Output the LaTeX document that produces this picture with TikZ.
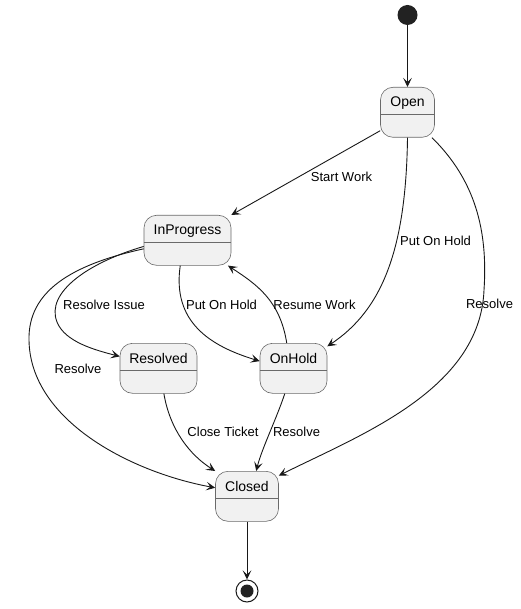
\documentclass[tikz,border=0pt]{standalone}
\usepackage{fontspec}
\setmainfont{Liberation Sans}
\usetikzlibrary{arrows.meta,calc}
\definecolor{edgec}{HTML}{181818}
\definecolor{boxc}{HTML}{6A6A6A}
\definecolor{fillc}{HTML}{F1F1F1}
\definecolor{startc}{HTML}{222222}
\tikzset{
  stbox/.style={draw=boxc, line width=0.6pt, fill=fillc, rounded corners=12.5pt,
    minimum height=50pt, inner sep=0pt, anchor=north},
  divline/.style={draw=boxc, line width=0.6pt},
  stname/.style={font=\fontsize{14}{16}\selectfont, anchor=base, inner sep=0pt, text=black},
  elabel/.style={font=\fontsize{13}{15}\selectfont, anchor=base, inner sep=0pt, text=black},
  trans/.style={draw=edgec, line width=0.9pt, -{Stealth[length=9pt,width=8.5pt,inset=4pt]}},
}
\newcommand\mystate[5]{%
  \node[stbox, minimum width=#4pt] (#1) at (#2,#3) {};
  \draw[divline] ([yshift=-27pt]#1.north west) -- ([yshift=-27pt]#1.north east);
  \node[stname] (#1-t) at ([yshift=-20pt]#1.north) {#5};
}
\begin{document}
\begin{tikzpicture}[x=1pt,y=-1pt]
\useasboundingbox (0,0) rectangle (520,609);
% states
\node[circle, fill=startc, minimum size=20pt, inner sep=0pt] (start) at (407.5,15) {};
\mystate{open}{407.5}{87}{54}{Open}
\mystate{inprog}{187.5}{215}{87}{InProgress}
\mystate{resolved}{158.5}{343}{77}{Resolved}
\mystate{onhold}{293.5}{343}{67}{OnHold}
\mystate{closed}{247}{471}{63}{Closed}
\node[circle, draw=edgec, line width=1pt, fill=white, minimum size=22pt, inner sep=0pt] (end) at (247,591) {};
\fill[startc] (end.center) circle (6.5pt);
% transitions
\draw[trans] (start) -- (open);
\draw[trans] (open.214) -- (inprog.north east);
\draw[trans] (open.south) .. controls (406,250) and (382,310) .. (onhold.33);
\draw[trans] (open.314) .. controls (475,180) and (488,230) .. (484,290)
   .. controls (480,390) and (360,435) .. (closed.33);
\draw[trans] (inprog.188) .. controls (90,262) and (45,292) .. (57,322)
   .. controls (65,342) and (95,350) .. (resolved.163);
\draw[trans] (inprog.191) .. controls (70,265) and (28,292) .. (29,340)
   .. controls (30,420) and (130,472) .. (closed.165);
\draw[trans] (inprog.254) .. controls (172,322) and (210,346) .. (onhold.168);
\draw[trans] (onhold.105) .. controls (280,300) and (256,284) .. (inprog.328);
\draw[trans] (resolved.282) .. controls (170,430) and (190,455) .. (closed.north west);
\draw[trans] (onhold.251) .. controls (276,420) and (262,448) .. (closed.70);
\draw[trans] (closed) -- (end);
% labels
\node[elabel] (l1) at (341.5,181.7) {Start Work};
\node[elabel] (l2) at (435.5,245.7) {Put On Hold};
\node[elabel] (l3) at (489.5,308.7) {Resolve};
\node[elabel] (l4) at (104,309.7) {Resolve Issue};
\node[elabel] (l5) at (221.5,309.7) {Put On Hold};
\node[elabel] (l6) at (314.5,309.7) {Resume Work};
\node[elabel] (l7) at (78,373.7) {Resolve};
\node[elabel] (l8) at (223,436.7) {Close Ticket};
\node[elabel] (l9) at (296.5,436.7) {Resolve};
\end{tikzpicture}
\end{document}
